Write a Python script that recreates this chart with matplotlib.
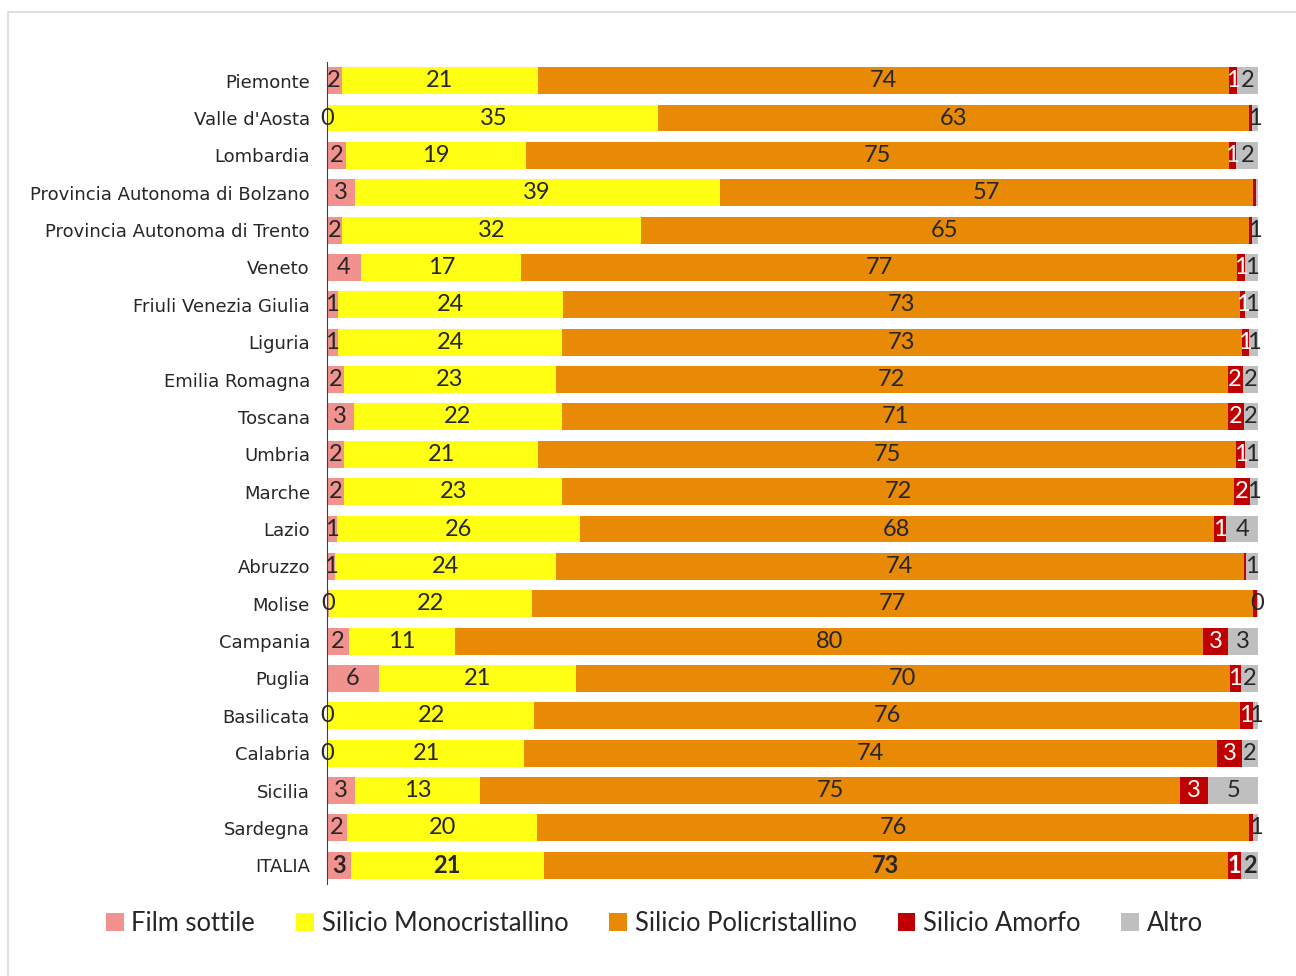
import matplotlib.pyplot as plt
import numpy as np
from matplotlib.patches import Rectangle

regioni = ['Piemonte', "Valle d'Aosta", 'Lombardia', 'Provincia Autonoma di Bolzano',
           'Provincia Autonoma di Trento', 'Veneto', 'Friuli Venezia Giulia', 'Liguria',
           'Emilia Romagna', 'Toscana', 'Umbria', 'Marche', 'Lazio', 'Abruzzo', 'Molise',
           'Campania', 'Puglia', 'Basilicata', 'Calabria', 'Sicilia', 'Sardegna', 'ITALIA']

# quote percentuali per tecnologia
film_sottile = [1.6, 0.2, 2.1, 3.0, 1.7, 3.7, 1.2, 1.2, 1.9, 2.9, 1.9,
                1.9, 1.1, 0.9, 0.3, 2.4, 5.6, 0.2, 0.2, 3.1, 2.2, 2.6]
monocristallino = [21.1, 35.4, 19.3, 39.2, 32.0, 17.2, 24.2, 24.1, 22.7, 22.4, 20.8,
                   23.4, 26.1, 23.7, 21.7, 11.4, 21.2, 22.1, 21.0, 13.4, 20.4, 20.7]
policristallino = [74.1, 63.4, 75.4, 57.2, 65.3, 76.8, 72.6, 72.9, 72.1, 71.4, 74.9,
                   72.1, 68.0, 73.8, 77.4, 80.3, 70.1, 75.7, 74.4, 75.1, 76.4, 73.4]
amorfo = [0.9, 0.3, 0.8, 0.3, 0.3, 0.9, 0.6, 0.8, 1.6, 1.7, 1.0,
          1.7, 1.3, 0.3, 0.4, 2.6, 1.2, 1.4, 2.6, 3.0, 0.4, 1.4]
altro = [2.3, 0.7, 2.4, 0.3, 0.7, 1.4, 1.4, 1.0, 1.7, 1.6, 1.4,
         0.9, 3.5, 1.3, 0.2, 3.3, 1.9, 0.6, 1.8, 5.4, 0.6, 1.9]

serie = ['Film sottile', 'Silicio Monocristallino', 'Silicio Policristallino',
         'Silicio Amorfo', 'Altro']
valori = [film_sottile, monocristallino, policristallino, amorfo, altro]
colori = ['#F2928E', '#FFFF14', '#E98A07', '#C00000', '#BFBFBF']
col_testo = ['#262626', '#262626', '#262626', 'white', '#262626']

# etichette non mostrate nel grafico originale
nascoste = {(3, 4)}

fig = plt.figure(figsize=(12.96, 9.76), dpi=100)
ax = fig.add_axes([0.252, 0.0943, 0.719, 0.8422])

y = np.arange(len(regioni))
left = np.zeros(len(regioni))
for k, (nome, v, c) in enumerate(zip(serie, valori, colori)):
    v = np.array(v)
    bars = ax.barh(y, v, left=left, height=0.72, color=c, label=nome)
    labels = []
    for i, val in enumerate(v):
        if (i, k) in nascoste or (k == 3 and val < 0.5):
            labels.append('')
        else:
            labels.append('%.0f' % val)
    txts = ax.bar_label(bars, labels=labels, label_type='center',
                        color=col_testo[k], fontsize=17, family='Lato')
    for t in txts:
        t.set_y(t.get_position()[1])
    txts[-1].set_fontweight('bold')
    left += v

ax.set_xlim(0, 100)
ax.set_ylim(len(regioni) - 0.5, -0.5)
ax.set_yticks(y)
ax.set_yticklabels(regioni, fontsize=13, color='#262626')
ax.tick_params(axis='y', length=0, pad=12)
ax.set_xticks([])
for s in ['top', 'right', 'bottom']:
    ax.spines[s].set_visible(False)
ax.spines['left'].set_color('#404040')

fig.legend(loc='center', bbox_to_anchor=(0.505, 0.054), ncol=5, frameon=False,
           handlelength=0.7, handleheight=0.7, handletextpad=0.3,
           columnspacing=1.6, prop={'family': 'Lato', 'size': 18.4},
           labelcolor='#262626')

# cornice del riquadro
fig.patches.append(Rectangle((8 / 1296, -0.05), 1.2, 1 - 12 / 976 + 0.05,
                             transform=fig.transFigure, fill=False,
                             edgecolor='#d9d9d9', lw=1.2))

fig.savefig('out.png', dpi=100)
